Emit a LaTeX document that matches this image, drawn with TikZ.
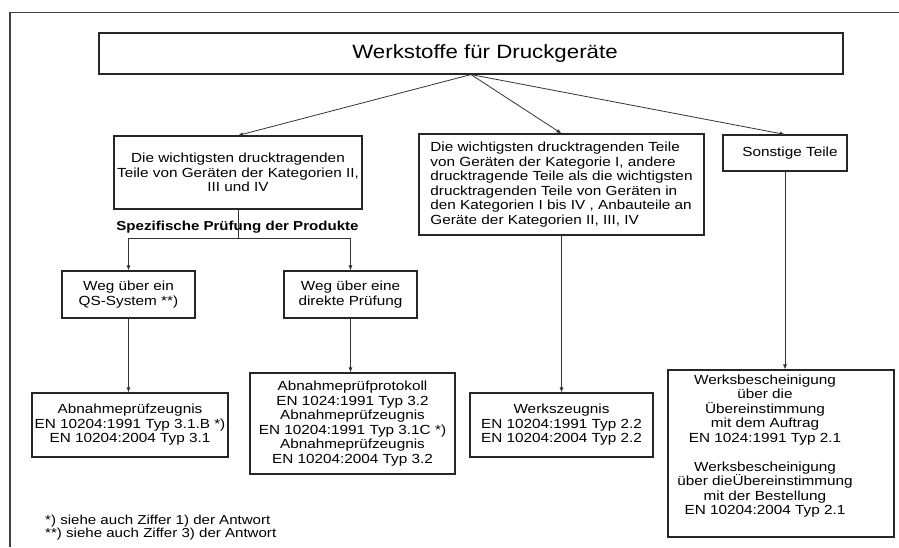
\documentclass[tikz,border=0pt]{standalone}
\usepackage{fontspec}
\setmainfont[FakeStretch=1.16]{Liberation Sans}
\usetikzlibrary{arrows.meta}
\begin{document}
\begin{tikzpicture}[x=1pt,y=-1pt,
  box/.style={draw=black!85, line width=1.1pt, inner sep=0pt, align=center, font=\fontsize{13.2}{14.5}\selectfont},
  conn/.style={draw=black!80, line width=0.8pt},
  arr/.style={conn, -{Latex[length=5pt,width=4pt]}},
  txt/.style={inner sep=0pt, align=center, font=\fontsize{13.2}{14.5}\selectfont}]
\useasboundingbox (0,0) rectangle (899,547);
\draw[line width=1.2pt, draw=black!75] (10,547) -- (10,12.5) -- (899,12.5);

\node[box, minimum width=744pt, minimum height=41pt, font=\fontsize{19.2}{22}\selectfont] (title) at (471,53.5) {\hspace*{28pt}Werkstoffe für Druckgeräte};

\node[box, minimum width=248pt, minimum height=73pt] (lt) at (238,172.5) {Die wichtigsten drucktragenden\\Teile von Geräten der Kategorien II,\\III und IV};

\node[box, minimum width=285pt, minimum height=101pt, align=left] (mt) at (561.5,184.5) {Die wichtigsten drucktragenden Teile\\von Geräten der Kategorie I, andere\\drucktragende Teile als die wichtigsten\\drucktragenden Teile von Geräten in\\den Kategorien I bis IV , Anbauteile an\\Geräte der Kategorien II, III, IV};

\node[box, minimum width=124pt, minimum height=36pt] (st) at (785,153) {\hspace*{10pt}Sonstige Teile};

\node[font=\bfseries\fontsize{13}{15}\selectfont, inner sep=0pt] (spez) at (237.5,227) {Spezifische Prüfung der Produkte};

\node[box, minimum width=133pt, minimum height=47pt] (qs) at (128.5,294.5) {Weg über ein\\QS-System **)};
\node[box, minimum width=133pt, minimum height=47pt] (dp) at (350.5,294.5) {Weg über eine\\direkte Prüfung};

\node[box, minimum width=196pt, minimum height=64pt] (lb) at (130,425) {Abnahmeprüfzeugnis\\EN 10204:1991 Typ 3.1.B *)\\EN 10204:2004 Typ 3.1};

\node[box, minimum width=205pt, minimum height=101pt] (mb) at (352.5,423.5) {Abnahmeprüfprotokoll\\EN 1024:1991 Typ 3.2\\Abnahmeprüfzeugnis\\EN 10204:1991 Typ 3.1C *)\\Abnahmeprüfzeugnis\\EN 10204:2004 Typ 3.2};

\node[box, minimum width=183pt, minimum height=64pt] (wz) at (561.5,425) {Werkszeugnis\\EN 10204:1991 Typ 2.2\\EN 10204:2004 Typ 2.2};

\node[box, minimum width=226pt, minimum height=167pt] (wb) at (781,453.5) {};
\node[txt] (wbt) at (765,446) {Werksbescheinigung\\über die\\Übereinstimmung\\mit dem Auftrag\\EN 1024:1991 Typ 2.1\\[14.5pt]Werksbescheinigung\\über dieÜbereinstimmung\\mit der Bestellung\\EN 10204:2004 Typ 2.1};

\node[anchor=west, inner sep=0pt, align=left, font=\fontsize{13}{11.5}\selectfont] (fn) at (45,527.5) {*) siehe auch Ziffer 1) der Antwort\\**) siehe auch Ziffer 3) der Antwort};

\coordinate (j) at (238,238);
\coordinate (jl) at (128.5,238);
\coordinate (jr) at (350.5,238);

\draw[arr] (title.south) -- (lt.north);
\draw[arr] (title.south) -- (mt.north);
\draw[arr] (title.south) -- (st.north);
\draw[conn] (lt.south) -- (j);
\draw[conn] (jl) -- (jr);
\draw[arr] (jl) -- (qs.north);
\draw[arr] (jr) -- (dp.north);
\draw[arr] (qs.south) -- (qs.south |- lb.north);
\draw[arr] (dp.south) -- (dp.south |- mb.north);
\draw[arr] (mt.south) -- (wz.north);
\draw[arr] (st.south) -- (st.south |- wb.north);
\end{tikzpicture}
\end{document}
